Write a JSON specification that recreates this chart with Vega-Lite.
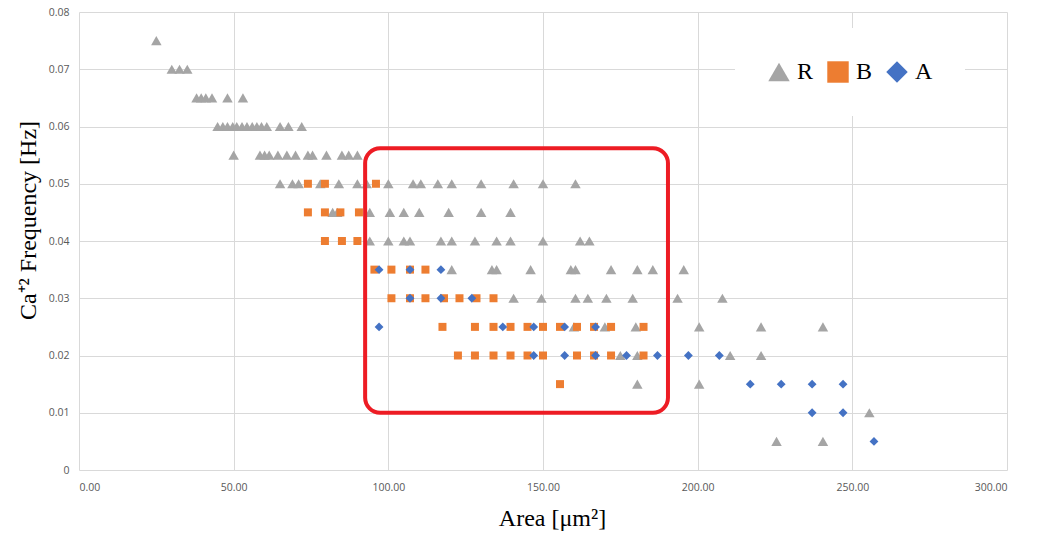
{
  "$schema": "https://vega.github.io/schema/vega-lite/v6.json",
  "width": 928,
  "height": 458,
  "autosize": "none",
  "padding": {"left": 79, "top": 12, "right": 31, "bottom": 63},
  "background": "white",
  "config": {
    "view": {"stroke": null},
    "axis": {"gridColor": "#d9d9d9", "gridWidth": 1, "domain": false, "ticks": false, "labelColor": "#595959", "labelFont": "Open Sans", "labelFontSize": 10.5, "titleFont": "Liberation Serif", "titleFontWeight": "normal", "titleColor": "#000000", "titleFontSize": 24},
    "legend": {"symbolSize": 460}
  },
  "datasets": {
    "pts": [
      {"area": 25, "freq": 0.075, "series": "R"},
      {"area": 30, "freq": 0.07, "series": "R"}, {"area": 32.5, "freq": 0.07, "series": "R"}, {"area": 35, "freq": 0.07, "series": "R"},
      {"area": 38, "freq": 0.065, "series": "R"}, {"area": 39.5, "freq": 0.065, "series": "R"}, {"area": 41, "freq": 0.065, "series": "R"}, {"area": 43, "freq": 0.065, "series": "R"}, {"area": 48, "freq": 0.065, "series": "R"}, {"area": 53, "freq": 0.065, "series": "R"},
      {"area": 44.8, "freq": 0.06, "series": "R"}, {"area": 46.5, "freq": 0.06, "series": "R"}, {"area": 48, "freq": 0.06, "series": "R"}, {"area": 49.7, "freq": 0.06, "series": "R"}, {"area": 51, "freq": 0.06, "series": "R"}, {"area": 52.7, "freq": 0.06, "series": "R"}, {"area": 54.3, "freq": 0.06, "series": "R"}, {"area": 56, "freq": 0.06, "series": "R"}, {"area": 57.5, "freq": 0.06, "series": "R"}, {"area": 59, "freq": 0.06, "series": "R"}, {"area": 60.7, "freq": 0.06, "series": "R"}, {"area": 65, "freq": 0.06, "series": "R"}, {"area": 67.7, "freq": 0.06, "series": "R"}, {"area": 72, "freq": 0.06, "series": "R"},
      {"area": 50, "freq": 0.055, "series": "R"}, {"area": 58.5, "freq": 0.055, "series": "R"}, {"area": 60, "freq": 0.055, "series": "R"}, {"area": 61.5, "freq": 0.055, "series": "R"}, {"area": 64.3, "freq": 0.055, "series": "R"}, {"area": 67.2, "freq": 0.055, "series": "R"}, {"area": 70, "freq": 0.055, "series": "R"}, {"area": 74, "freq": 0.055, "series": "R"}, {"area": 75.5, "freq": 0.055, "series": "R"}, {"area": 80, "freq": 0.055, "series": "R"}, {"area": 85, "freq": 0.055, "series": "R"}, {"area": 87.2, "freq": 0.055, "series": "R"}, {"area": 90, "freq": 0.055, "series": "R"},
      {"area": 65, "freq": 0.05, "series": "R"}, {"area": 69, "freq": 0.05, "series": "R"}, {"area": 71, "freq": 0.05, "series": "R"}, {"area": 78, "freq": 0.05, "series": "R"}, {"area": 84, "freq": 0.05, "series": "R"}, {"area": 90, "freq": 0.05, "series": "R"}, {"area": 93, "freq": 0.05, "series": "R"}, {"area": 100, "freq": 0.05, "series": "R"}, {"area": 108, "freq": 0.05, "series": "R"}, {"area": 110.5, "freq": 0.05, "series": "R"}, {"area": 116, "freq": 0.05, "series": "R"}, {"area": 120.5, "freq": 0.05, "series": "R"}, {"area": 130, "freq": 0.05, "series": "R"}, {"area": 140.5, "freq": 0.05, "series": "R"}, {"area": 150, "freq": 0.05, "series": "R"}, {"area": 160.5, "freq": 0.05, "series": "R"},
      {"area": 82, "freq": 0.045, "series": "R"}, {"area": 83.5, "freq": 0.045, "series": "R"}, {"area": 94, "freq": 0.045, "series": "R"}, {"area": 100.5, "freq": 0.045, "series": "R"}, {"area": 105, "freq": 0.045, "series": "R"}, {"area": 110, "freq": 0.045, "series": "R"}, {"area": 119.5, "freq": 0.045, "series": "R"}, {"area": 130, "freq": 0.045, "series": "R"}, {"area": 139.5, "freq": 0.045, "series": "R"},
      {"area": 94, "freq": 0.04, "series": "R"}, {"area": 100, "freq": 0.04, "series": "R"}, {"area": 105, "freq": 0.04, "series": "R"}, {"area": 107, "freq": 0.04, "series": "R"}, {"area": 117, "freq": 0.04, "series": "R"}, {"area": 120.5, "freq": 0.04, "series": "R"}, {"area": 128, "freq": 0.04, "series": "R"}, {"area": 135, "freq": 0.04, "series": "R"}, {"area": 139.5, "freq": 0.04, "series": "R"}, {"area": 150, "freq": 0.04, "series": "R"}, {"area": 162, "freq": 0.04, "series": "R"}, {"area": 165, "freq": 0.04, "series": "R"},
      {"area": 120.5, "freq": 0.035, "series": "R"}, {"area": 133.5, "freq": 0.035, "series": "R"}, {"area": 135, "freq": 0.035, "series": "R"}, {"area": 146, "freq": 0.035, "series": "R"}, {"area": 159, "freq": 0.035, "series": "R"}, {"area": 160.5, "freq": 0.035, "series": "R"}, {"area": 172, "freq": 0.035, "series": "R"}, {"area": 180.5, "freq": 0.035, "series": "R"}, {"area": 185.5, "freq": 0.035, "series": "R"}, {"area": 195.5, "freq": 0.035, "series": "R"},
      {"area": 140.5, "freq": 0.03, "series": "R"}, {"area": 149.5, "freq": 0.03, "series": "R"}, {"area": 160.5, "freq": 0.03, "series": "R"}, {"area": 164.5, "freq": 0.03, "series": "R"}, {"area": 170.5, "freq": 0.03, "series": "R"}, {"area": 179, "freq": 0.03, "series": "R"}, {"area": 193.5, "freq": 0.03, "series": "R"}, {"area": 208, "freq": 0.03, "series": "R"},
      {"area": 160, "freq": 0.025, "series": "R"}, {"area": 170, "freq": 0.025, "series": "R"}, {"area": 180, "freq": 0.025, "series": "R"}, {"area": 200.5, "freq": 0.025, "series": "R"}, {"area": 220.5, "freq": 0.025, "series": "R"}, {"area": 240.5, "freq": 0.025, "series": "R"},
      {"area": 175, "freq": 0.02, "series": "R"}, {"area": 180.5, "freq": 0.02, "series": "R"}, {"area": 210.5, "freq": 0.02, "series": "R"}, {"area": 220.5, "freq": 0.02, "series": "R"},
      {"area": 180.5, "freq": 0.015, "series": "R"}, {"area": 200.5, "freq": 0.015, "series": "R"},
      {"area": 255.5, "freq": 0.01, "series": "R"},
      {"area": 225.5, "freq": 0.005, "series": "R"}, {"area": 240.5, "freq": 0.005, "series": "R"},
      {"area": 74, "freq": 0.05, "series": "B"}, {"area": 79.5, "freq": 0.05, "series": "B"}, {"area": 96, "freq": 0.05, "series": "B"},
      {"area": 74, "freq": 0.045, "series": "B"}, {"area": 79.5, "freq": 0.045, "series": "B"}, {"area": 84.5, "freq": 0.045, "series": "B"}, {"area": 90.5, "freq": 0.045, "series": "B"},
      {"area": 79.5, "freq": 0.04, "series": "B"}, {"area": 85, "freq": 0.04, "series": "B"}, {"area": 90, "freq": 0.04, "series": "B"},
      {"area": 95.5, "freq": 0.035, "series": "B"}, {"area": 101, "freq": 0.035, "series": "B"}, {"area": 107, "freq": 0.035, "series": "B"}, {"area": 112, "freq": 0.035, "series": "B"},
      {"area": 101, "freq": 0.03, "series": "B"}, {"area": 107, "freq": 0.03, "series": "B"}, {"area": 112, "freq": 0.03, "series": "B"}, {"area": 118, "freq": 0.03, "series": "B"}, {"area": 123, "freq": 0.03, "series": "B"}, {"area": 128.5, "freq": 0.03, "series": "B"}, {"area": 134, "freq": 0.03, "series": "B"},
      {"area": 117.5, "freq": 0.025, "series": "B"}, {"area": 128, "freq": 0.025, "series": "B"}, {"area": 134, "freq": 0.025, "series": "B"}, {"area": 139.5, "freq": 0.025, "series": "B"}, {"area": 145, "freq": 0.025, "series": "B"}, {"area": 150, "freq": 0.025, "series": "B"}, {"area": 155.5, "freq": 0.025, "series": "B"}, {"area": 161, "freq": 0.025, "series": "B"}, {"area": 166.5, "freq": 0.025, "series": "B"}, {"area": 172, "freq": 0.025, "series": "B"}, {"area": 182.5, "freq": 0.025, "series": "B"},
      {"area": 122.5, "freq": 0.02, "series": "B"}, {"area": 128, "freq": 0.02, "series": "B"}, {"area": 134, "freq": 0.02, "series": "B"}, {"area": 139.5, "freq": 0.02, "series": "B"}, {"area": 145, "freq": 0.02, "series": "B"}, {"area": 150, "freq": 0.02, "series": "B"}, {"area": 161, "freq": 0.02, "series": "B"}, {"area": 166.5, "freq": 0.02, "series": "B"}, {"area": 172, "freq": 0.02, "series": "B"}, {"area": 182.5, "freq": 0.02, "series": "B"},
      {"area": 155.5, "freq": 0.015, "series": "B"},
      {"area": 97, "freq": 0.035, "series": "A"}, {"area": 107, "freq": 0.035, "series": "A"}, {"area": 117, "freq": 0.035, "series": "A"},
      {"area": 107, "freq": 0.03, "series": "A"}, {"area": 117, "freq": 0.03, "series": "A"}, {"area": 127, "freq": 0.03, "series": "A"},
      {"area": 97, "freq": 0.025, "series": "A"}, {"area": 137, "freq": 0.025, "series": "A"}, {"area": 147, "freq": 0.025, "series": "A"}, {"area": 157, "freq": 0.025, "series": "A"}, {"area": 167, "freq": 0.025, "series": "A"},
      {"area": 147, "freq": 0.02, "series": "A"}, {"area": 157, "freq": 0.02, "series": "A"}, {"area": 167, "freq": 0.02, "series": "A"}, {"area": 177, "freq": 0.02, "series": "A"}, {"area": 187, "freq": 0.02, "series": "A"}, {"area": 197, "freq": 0.02, "series": "A"}, {"area": 207, "freq": 0.02, "series": "A"},
      {"area": 217, "freq": 0.015, "series": "A"}, {"area": 227, "freq": 0.015, "series": "A"}, {"area": 237, "freq": 0.015, "series": "A"}, {"area": 247, "freq": 0.015, "series": "A"},
      {"area": 237, "freq": 0.01, "series": "A"}, {"area": 247, "freq": 0.01, "series": "A"},
      {"area": 257, "freq": 0.005, "series": "A"}
    ],
    "box": [{"x1": 92.5, "x2": 190.4, "y1": 0.01, "y2": 0.0562}]
  },
  "encoding": {
    "x": {"field": "area", "type": "quantitative", "scale": {"domain": [0, 300], "nice": false}, "axis": {"values": [0, 50, 100, 150, 200, 250, 300], "format": ".2f", "labelPadding": 12, "title": "Area [μm²]", "titleX": 473, "titleY": 36, "titleBaseline": "top"}},
    "y": {"field": "freq", "type": "quantitative", "scale": {"domain": [0, 0.08], "nice": false}, "axis": {"values": [0, 0.01, 0.02, 0.03, 0.04, 0.05, 0.06, 0.07, 0.08], "labelExpr": "datum.value == 0 ? '0' : format(datum.value, '.2f')", "labelPadding": 10, "title": "Ca⁺² Frequency [Hz]", "titleX": -39, "titleY": 208}},
    "color": {"field": "series", "type": "nominal", "scale": {"domain": ["R", "B", "A"], "range": ["#a5a5a5", "#ed7d31", "#4472c4"]},
      "legend": {"title": null, "orient": "none", "legendX": 656, "legendY": 16, "direction": "horizontal", "fillColor": "white", "padding": 32, "symbolSize": 460, "symbolStrokeWidth": 0, "labelFont": "Liberation Serif", "labelFontSize": 24, "labelColor": "#000000", "labelOffset": 6, "columnPadding": 12,
        "encode": {"symbols": {"update": {"fill": {"signal": "datum.value == 'R' ? '#7f7f7f' : datum.value == 'B' ? '#f58025' : '#4347d0'"}, "opacity": {"value": 1}}}}}},
    "shape": {"field": "series", "type": "nominal", "scale": {"domain": ["R", "B", "A"], "range": ["triangle-up", "square", "diamond"]}}
  },
  "layer": [
    {
      "data": {"name": "pts"},
      "transform": [{"filter": "datum.series == 'R'"}],
      "mark": {"type": "point", "filled": true, "opacity": 1, "strokeWidth": 0, "size": 110}
    },
    {
      "data": {"name": "pts"},
      "transform": [{"filter": "datum.series == 'B'"}],
      "mark": {"type": "point", "filled": true, "opacity": 1, "strokeWidth": 0, "size": 64}
    },
    {
      "data": {"name": "pts"},
      "transform": [{"filter": "datum.series == 'A'"}],
      "mark": {"type": "point", "filled": true, "opacity": 1, "strokeWidth": 0, "size": 78}
    },
    {
      "data": {"name": "box"},
      "mark": {"type": "rect", "fill": null, "fillOpacity": 0, "stroke": "#ed1c24", "strokeWidth": 4, "cornerRadius": 15},
      "encoding": {
        "x": {"field": "x1", "type": "quantitative"},
        "x2": {"field": "x2"},
        "y": {"field": "y1", "type": "quantitative"},
        "y2": {"field": "y2"},
        "color": null,
        "shape": null
      }
    }
  ]
}
